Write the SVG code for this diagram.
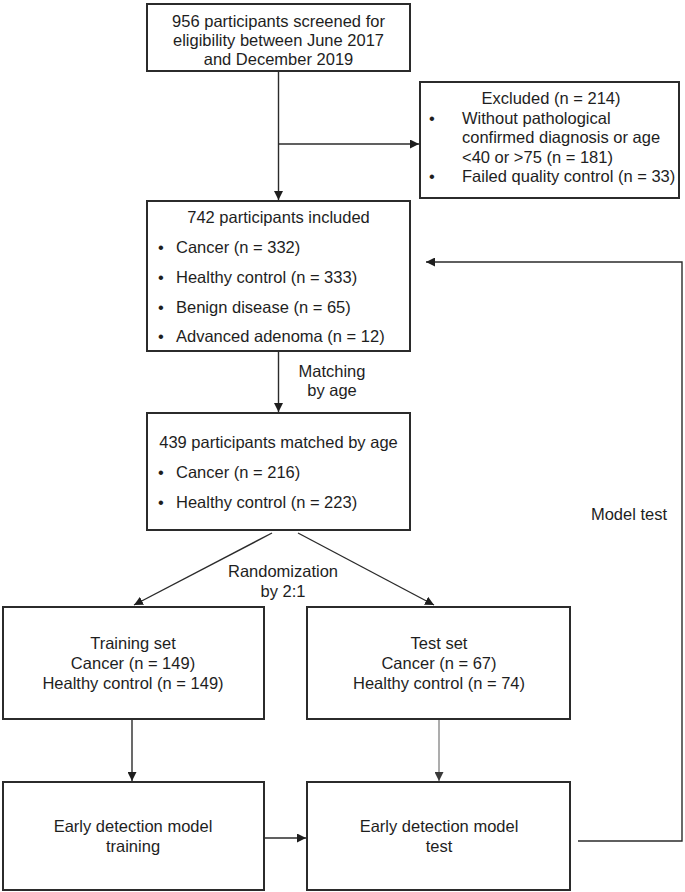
<svg xmlns="http://www.w3.org/2000/svg" width="685" height="892" viewBox="0 0 685 892">
<style>
  .box { fill: #ffffff; stroke: #2b2b2b; stroke-width: 2; }
  .t { font-family: "Liberation Sans", Arial, sans-serif; font-size: 16.5px; fill: #1e1e1e; }
  .c { text-anchor: middle; }
  .ln { fill: none; stroke: #2b2b2b; stroke-width: 1.4; }
  .lg { fill: none; stroke: #8a8a8a; stroke-width: 1.4; }
</style>
<defs>
  <marker id="ah" viewBox="0 0 10 10" refX="10" refY="5" markerWidth="9" markerHeight="9" markerUnits="userSpaceOnUse" orient="auto">
    <path d="M0,0 L10,5 L0,10 z" fill="#1e1e1e"/>
  </marker>
  <marker id="ahg" viewBox="0 0 10 10" refX="10" refY="5" markerWidth="9" markerHeight="9" markerUnits="userSpaceOnUse" orient="auto">
    <path d="M0,0 L10,5 L0,10 z" fill="#3a3a3a"/>
  </marker>
</defs>
<rect width="685" height="892" fill="#ffffff"/>

<g id="connectors">
  <line class="ln" x1="278.5" y1="71" x2="278.5" y2="200" marker-end="url(#ah)"/>
  <line class="ln" x1="278.5" y1="144" x2="419" y2="144" marker-end="url(#ah)"/>
  <line class="ln" x1="278.5" y1="351" x2="278.5" y2="412" marker-end="url(#ah)"/>
  <line class="ln" x1="272" y1="533" x2="134" y2="605" marker-end="url(#ah)"/>
  <line class="ln" x1="298" y1="533" x2="434" y2="605" marker-end="url(#ah)"/>
  <line class="ln" x1="132" y1="719" x2="132" y2="781" marker-end="url(#ah)"/>
  <line class="lg" x1="439" y1="719" x2="439" y2="781" marker-end="url(#ahg)"/>
  <line class="ln" x1="264" y1="838" x2="306" y2="838" marker-end="url(#ah)"/>
  <polyline class="ln" points="578,841 682,841 682,262 426,262" marker-end="url(#ah)"/>
  <text class="t c" x="332" y="377">Matching</text>
  <text class="t c" x="332" y="396">by age</text>
  <text class="t c" x="283" y="577">Randomization</text>
  <text class="t c" x="283" y="597">by 2:1</text>
  <text class="t c" x="629" y="520">Model test</text>
</g>

<g id="screened">
  <rect class="box" x="147" y="4" width="263" height="67"/>
  <text class="t c" x="278.5" y="27">956 participants screened for</text>
  <text class="t c" x="278.5" y="46">eligibility between June 2017</text>
  <text class="t c" x="278.5" y="65">and December 2019</text>
</g>

<g id="excluded">
  <rect class="box" x="420" y="82" width="259" height="116"/>
  <text class="t c" x="551" y="104">Excluded (n = 214)</text>
  <text class="t" x="429" y="124">•</text>
  <text class="t" x="462" y="124">Without pathological</text>
  <text class="t" x="462" y="143">confirmed diagnosis or age</text>
  <text class="t" x="462" y="163">&lt;40 or &gt;75 (n = 181)</text>
  <text class="t" x="429" y="182">•</text>
  <text class="t" x="462" y="182">Failed quality control (n = 33)</text>
</g>

<g id="included">
  <rect class="box" x="147" y="201" width="263" height="150"/>
  <text class="t c" x="278.5" y="223">742 participants included</text>
  <text class="t" x="158" y="253">•</text>
  <text class="t" x="176" y="253">Cancer (n = 332)</text>
  <text class="t" x="158" y="283">•</text>
  <text class="t" x="176" y="283">Healthy control (n = 333)</text>
  <text class="t" x="158" y="313">•</text>
  <text class="t" x="176" y="313">Benign disease (n = 65)</text>
  <text class="t" x="158" y="342">•</text>
  <text class="t" x="176" y="342">Advanced adenoma (n = 12)</text>
</g>

<g id="matched">
  <rect class="box" x="147" y="413" width="263" height="117"/>
  <text class="t c" x="278.5" y="448">439 participants matched by age</text>
  <text class="t" x="158" y="478">•</text>
  <text class="t" x="176" y="478">Cancer (n = 216)</text>
  <text class="t" x="158" y="508">•</text>
  <text class="t" x="176" y="508">Healthy control (n = 223)</text>
</g>

<g id="training-set">
  <rect class="box" x="3" y="607" width="261" height="112"/>
  <text class="t c" x="133" y="649">Training set</text>
  <text class="t c" x="133" y="669">Cancer (n = 149)</text>
  <text class="t c" x="133" y="689">Healthy control (n = 149)</text>
</g>

<g id="test-set">
  <rect class="box" x="307" y="607" width="263" height="112"/>
  <text class="t c" x="439" y="649">Test set</text>
  <text class="t c" x="439" y="669">Cancer (n = 67)</text>
  <text class="t c" x="439" y="689">Healthy control (n = 74)</text>
</g>

<g id="model-training">
  <rect class="box" x="3" y="782" width="261" height="108"/>
  <text class="t c" x="133" y="832">Early detection model</text>
  <text class="t c" x="133" y="852">training</text>
</g>

<g id="model-test">
  <rect class="box" x="307" y="782" width="263" height="108"/>
  <text class="t c" x="439" y="832">Early detection model</text>
  <text class="t c" x="439" y="852">test</text>
</g>
</svg>
